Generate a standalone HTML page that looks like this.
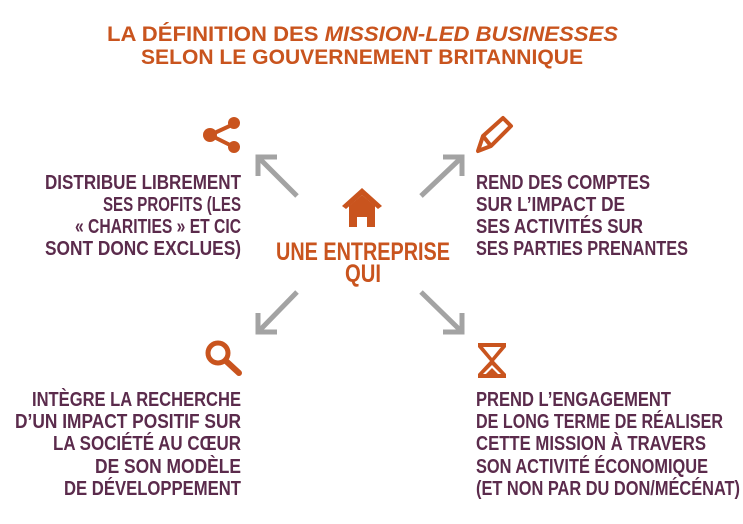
<!DOCTYPE html>
<html><head><meta charset="utf-8"><style>
html,body{margin:0;padding:0;background:#fff;width:743px;height:524px;overflow:hidden}
svg text{font-family:"Liberation Sans",sans-serif;font-weight:bold}
.p{fill:#5b2b4c;font-size:20px}
.o{fill:#c9541e}
</style></head><body>
<svg width="743" height="524" viewBox="0 0 743 524" xmlns="http://www.w3.org/2000/svg">
<g class="o" font-size="21">
<text x="107" y="41" textLength="511" lengthAdjust="spacingAndGlyphs">LA DÉFINITION DES <tspan font-style="italic">MISSION-LED BUSINESSES</tspan></text>
<text x="141" y="64" textLength="442" lengthAdjust="spacingAndGlyphs">SELON LE GOUVERNEMENT BRITANNIQUE</text>
</g>
<g stroke="#a3a3a3" stroke-width="5" fill="none" stroke-linecap="butt">
<line x1="297" y1="196" x2="260" y2="159"/><polyline points="258,176 258,157 277,157"/>
<line x1="421" y1="196" x2="460" y2="159"/><polyline points="443,157 462,157 462,176"/>
<line x1="297" y1="292" x2="260" y2="330"/><polyline points="258,313 258,332 277,332"/>
<line x1="421" y1="292" x2="460" y2="330"/><polyline points="443,332 462,332 462,313"/>
</g>
<g fill="#c9541e" stroke="#c9541e">
<line x1="234" y1="124" x2="210" y2="135" stroke-width="4"/>
<line x1="234" y1="147" x2="210" y2="135" stroke-width="4"/>
<circle cx="234" cy="123" r="6" stroke="none"/><circle cx="234" cy="147" r="6" stroke="none"/><circle cx="210" cy="135" r="7" stroke="none"/>
</g>
<g fill="none" stroke="#c9541e" stroke-width="4" stroke-linejoin="round">
<path d="M478 151 L483 136 L503 118 L511 126 L491 146 Z"/>
<path d="M483 136 L491 146"/>
</g>
<g fill="#c9541e">
<polygon points="342,206 362,188 382,206 378,209 362,195 346,209"/>
<polygon points="349,206 362,195 375,206 375,227 367,227 367,217 357,217 357,227 349,227"/>
</g>
<g fill="none" stroke="#c9541e">
<circle cx="218" cy="353" r="10" stroke-width="5"/>
<line x1="226" y1="361" x2="239" y2="373" stroke-width="6" stroke-linecap="round"/>
</g>
<g>
<path d="M478 343 L506 343 L506 347 L494 361 L506 374 L506 378 L478 378 L478 374 L490 361 L478 347 Z" fill="#c9541e"/>
<path d="M483 347 L501 347 L492 358 Z M483 374 L492 365 L501 374 Z" fill="#fff"/>
<path d="M486 374 L492 368 L498 374 Z" fill="#c9541e"/>
</g>
<g class="o" font-size="25">
<text x="276" y="260" textLength="174" lengthAdjust="spacingAndGlyphs">UNE ENTREPRISE</text>
<text x="345" y="282" textLength="36" lengthAdjust="spacingAndGlyphs">QUI</text>
</g>
<g class="p">
<text x="45" y="189" textLength="196" lengthAdjust="spacingAndGlyphs">DISTRIBUE LIBREMENT</text>
<text x="103" y="211" textLength="138" lengthAdjust="spacingAndGlyphs">SES PROFITS (LES</text>
<text x="75" y="233" textLength="166" lengthAdjust="spacingAndGlyphs">« CHARITIES » ET CIC</text>
<text x="45" y="255" textLength="196" lengthAdjust="spacingAndGlyphs">SONT DONC EXCLUES)</text>

<text x="476" y="189" textLength="174" lengthAdjust="spacingAndGlyphs">REND DES COMPTES</text>
<text x="476" y="211" textLength="149" lengthAdjust="spacingAndGlyphs">SUR L’IMPACT DE</text>
<text x="476" y="233" textLength="167" lengthAdjust="spacingAndGlyphs">SES ACTIVITÉS SUR</text>
<text x="476" y="255" textLength="212" lengthAdjust="spacingAndGlyphs">SES PARTIES PRENANTES</text>

<text x="32" y="406" textLength="209" lengthAdjust="spacingAndGlyphs">INTÈGRE LA RECHERCHE</text>
<text x="15" y="428" textLength="226" lengthAdjust="spacingAndGlyphs">D’UN IMPACT POSITIF SUR</text>
<text x="53" y="450" textLength="188" lengthAdjust="spacingAndGlyphs">LA SOCIÉTÉ AU CŒUR</text>
<text x="95" y="473" textLength="146" lengthAdjust="spacingAndGlyphs">DE SON MODÈLE</text>
<text x="64" y="495" textLength="177" lengthAdjust="spacingAndGlyphs">DE DÉVELOPPEMENT</text>

<text x="476" y="406" textLength="195" lengthAdjust="spacingAndGlyphs">PREND L’ENGAGEMENT</text>
<text x="476" y="428" textLength="247" lengthAdjust="spacingAndGlyphs">DE LONG TERME DE RÉALISER</text>
<text x="476" y="450" textLength="230" lengthAdjust="spacingAndGlyphs">CETTE MISSION À TRAVERS</text>
<text x="476" y="473" textLength="232" lengthAdjust="spacingAndGlyphs">SON ACTIVITÉ ÉCONOMIQUE</text>
<text x="476" y="495" textLength="264" lengthAdjust="spacingAndGlyphs">(ET NON PAR DU DON/MÉCÉNAT)</text>
</g>
</svg>
</body></html>
